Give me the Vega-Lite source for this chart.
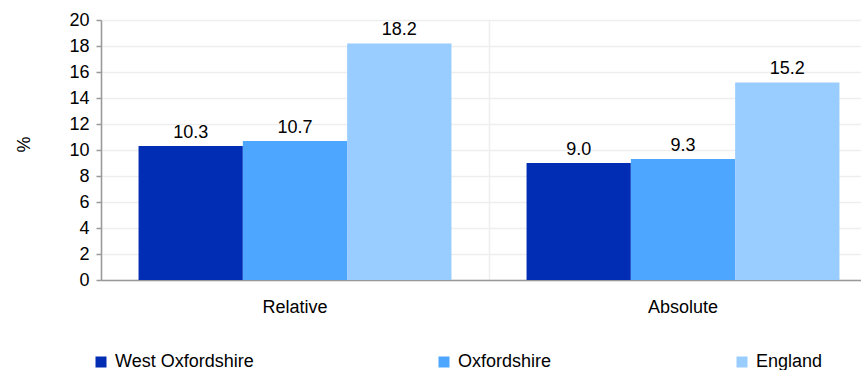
{
  "$schema": "https://vega.github.io/schema/vega-lite/v6.json",
  "width": 760,
  "height": 260,
  "autosize": {"type": "none"},
  "padding": {"left": 101, "top": 20, "right": 0, "bottom": 90},
  "background": "white",
  "config": {
    "font": "Liberation Sans",
    "view": {"stroke": null}
  },
  "data": {
    "values": [
      {"measure": "Relative", "area": "West Oxfordshire", "value": 10.3},
      {"measure": "Relative", "area": "Oxfordshire", "value": 10.7},
      {"measure": "Relative", "area": "England", "value": 18.2},
      {"measure": "Absolute", "area": "West Oxfordshire", "value": 9.0},
      {"measure": "Absolute", "area": "Oxfordshire", "value": 9.3},
      {"measure": "Absolute", "area": "England", "value": 15.2}
    ]
  },
  "encoding": {
    "x": {
      "field": "measure",
      "type": "nominal",
      "sort": ["Relative", "Absolute"],
      "scale": {"range": [0, 776], "paddingInner": 0, "paddingOuter": 0},
      "axis": {
        "title": null,
        "labelAngle": 0,
        "labelFontSize": 18,
        "labelColor": "#000000",
        "labelPadding": 18,
        "ticks": false,
        "domainColor": "#999999",
        "domainWidth": 1.5,
        "grid": true,
        "bandPosition": 0,
        "gridColor": "#eeeeee",
        "gridWidth": 1.5
      }
    },
    "xOffset": {
      "field": "area",
      "type": "nominal",
      "sort": ["West Oxfordshire", "Oxfordshire", "England"],
      "scale": {"paddingInner": 0, "paddingOuter": 0.36}
    },
    "y": {
      "field": "value",
      "type": "quantitative",
      "scale": {"domain": [0, 20], "nice": false},
      "axis": {
        "title": "%",
        "titleFontSize": 18,
        "titleFontWeight": "normal",
        "titleColor": "#000000",
        "titleX": -77,
        "titleY": 124,
        "titleAngle": 270,
        "titleAlign": "center",
        "titleBaseline": "middle",
        "values": [0, 2, 4, 6, 8, 10, 12, 14, 16, 18, 20],
        "labelFontSize": 18,
        "labelColor": "#000000",
        "labelPadding": 7,
        "tickSize": 5,
        "tickColor": "#999999",
        "tickWidth": 1.5,
        "domainColor": "#999999",
        "domainWidth": 1.5,
        "gridColor": "#eeeeee",
        "gridWidth": 1.5
      }
    }
  },
  "layer": [
    {
      "mark": {"type": "bar"},
      "encoding": {
        "color": {
          "field": "area",
          "type": "nominal",
          "sort": ["West Oxfordshire", "Oxfordshire", "England"],
          "scale": {
            "domain": ["West Oxfordshire", "Oxfordshire", "England"],
            "range": ["#002db3", "#4da6ff", "#99ccff"]
          },
          "legend": {
            "title": null,
            "orient": "none",
            "direction": "horizontal",
            "columns": 3,
            "columnPadding": 181,
            "legendX": -9,
            "legendY": 333,
            "padding": 0,
            "symbolType": "square",
            "symbolSize": 121,
            "symbolStrokeWidth": 0,
            "symbolOffset": 0,
            "labelFontSize": 18,
            "labelColor": "#000000",
            "labelOffset": 5,
            "labelLimit": 300
          }
        }
      }
    },
    {
      "mark": {"type": "text", "baseline": "alphabetic", "dy": -8, "fontSize": 18, "color": "#000000"},
      "encoding": {
        "text": {"field": "value", "type": "quantitative", "format": ".1f"}
      }
    }
  ]
}
